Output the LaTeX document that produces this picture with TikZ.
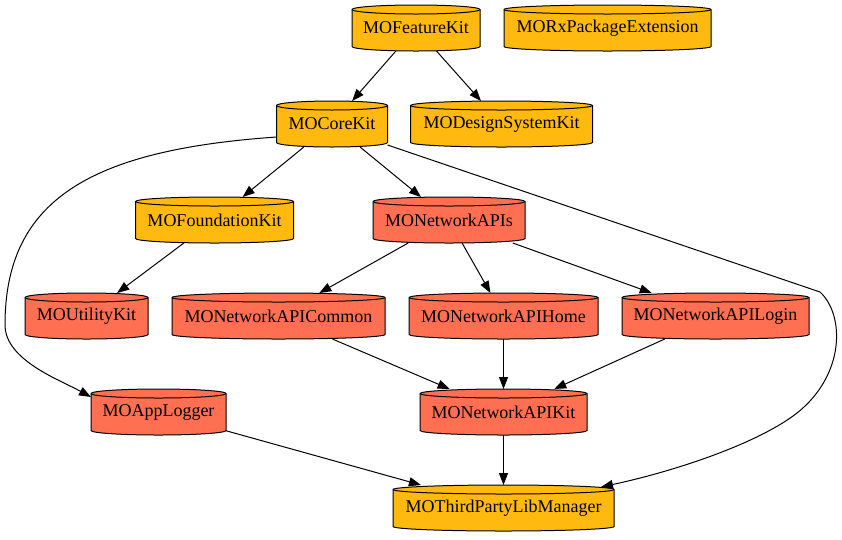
\documentclass[tikz,border=0pt]{standalone}
\usepackage{fontspec}
\setmainfont{Liberation Serif}
\usetikzlibrary{arrows.meta,calc}
\definecolor{orng}{RGB}{255,185,15}
\definecolor{rd}{RGB}{255,112,82}
\newcommand{\cylnode}[6]{%
  \filldraw[fill=#5,draw=black,line width=1pt] ({#2-#4/2},{-#3+18.5}) arc[start angle=180,end angle=0,x radius={#4/2},y radius=4.5] -- ({#2+#4/2},{-#3-18.5}) arc[start angle=0,end angle=-180,x radius={#4/2},y radius=4.5] -- cycle;
  \draw[line width=1pt] ({#2-#4/2},{-#3+18.5}) arc[start angle=180,end angle=360,x radius={#4/2},y radius=4.5];
  \node[lbl,minimum width=#4pt] (#1) at (#2,-#3) {#6};
}
\begin{document}
\begin{tikzpicture}[x=1pt,y=1pt,
  lbl/.style={inner sep=0pt,outer sep=0pt,minimum height=46pt,font=\fontsize{18}{20}\selectfont},
  edge/.style={line width=1pt,-{Triangle[length=12pt,width=9pt]}}]
\useasboundingbox (0,0) rectangle (842,-539);
\cylnode{fk}{416}{28}{128}{orng}{MOFeatureKit}
\cylnode{rx}{607.5}{28}{207}{orng}{MORxPackageExtension}
\cylnode{ck}{332}{124}{111}{orng}{MOCoreKit}
\cylnode{ds}{501.5}{124}{182}{orng}{MODesignSystemKit}
\cylnode{fd}{214.5}{220}{158}{orng}{MOFoundationKit}
\cylnode{na}{449}{220}{152}{rd}{MONetworkAPIs}
\cylnode{uk}{86.5}{316}{123}{rd}{MOUtilityKit}
\cylnode{nc}{278.5}{316}{213}{rd}{MONetworkAPICommon}
\cylnode{nh}{503.5}{316}{189}{rd}{MONetworkAPIHome}
\cylnode{nl}{715.5}{316}{187}{rd}{MONetworkAPILogin}
\cylnode{al}{158.5}{412}{135}{rd}{MOAppLogger}
\cylnode{nk}{503.5}{412}{167}{rd}{MONetworkAPIKit}
\cylnode{tp}{503.5}{508}{221}{orng}{MOThirdPartyLibManager}
\coordinate (w1) at (5,-325);
\coordinate (w2) at (820,-292);
\coordinate (w3) at (797,-413);
\draw[edge] (fk) -- (ck);
\draw[edge] (fk) -- (ds);
\draw[edge] (ck) -- (fd);
\draw[edge] (ck) -- (na);
\draw[edge] ([yshift=-13pt]ck.west) .. controls (90,-150) and (5,-200) .. (w1) .. controls (5,-360) and (60,-380) .. ([yshift=15pt]al.west);
\draw[edge] ([yshift=2pt]ck.south east) -- (w2) .. controls (845,-315) and (845,-375) .. (w3) .. controls (760,-442) and (680,-470) .. ([xshift=-13pt,yshift=-2pt]tp.north east);
\draw[edge] (fd) -- (uk);
\draw[edge] (na) -- (nc);
\draw[edge] (na) -- (nh);
\draw[edge] (na) -- (nl);
\draw[edge] (nc) -- (nk);
\draw[edge] (nh) -- (nk);
\draw[edge] (nl) -- (nk);
\draw[edge] (al) -- (tp);
\draw[edge] (nk) -- (tp);
\end{tikzpicture}
\end{document}
